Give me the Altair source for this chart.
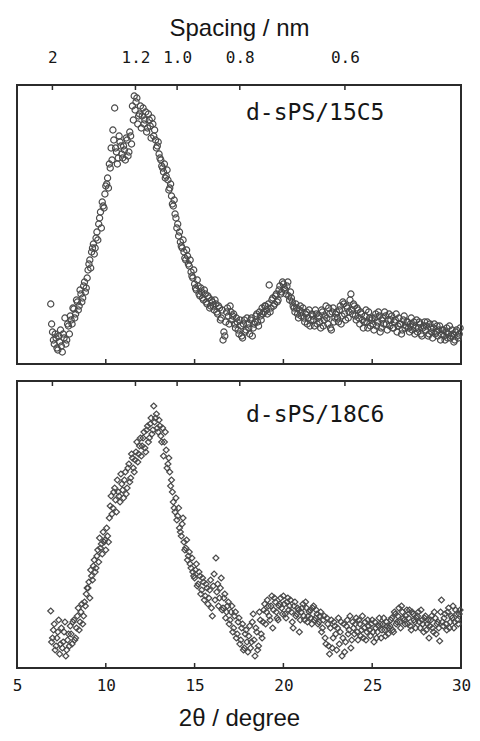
import math
import altair as alt
import pandas as pd

# ---- data (intensity in arbitrary units) ----
# two interleaved sets per pattern: set A at 6.9, 7.0, ... ; set B at 6.95, 7.05, ...
TWO_THETA_START_A = 6.9
TWO_THETA_START_B = 6.95
TWO_THETA_STEP = 0.1

INTENSITY_15C5_A = [
    60,
    32, 20, 26, 14, 22, 18, 30, 46, 24, 38,
    48, 40, 55, 50, 62, 58, 70, 66, 82, 76,
    94, 104, 112, 120, 116, 132, 140, 152, 162, 156,
    178, 186, 200, 216, 234, 256, 212, 206, 222, 210,
    218, 204, 224, 212, 228, 258, 268, 262, 240, 250,
    236, 256, 244, 232, 250, 238, 246, 228, 224, 218,
    210, 204, 196, 200, 188, 184, 176, 168, 158, 150,
    136, 128, 122, 116, 112, 104, 108, 98, 92, 86,
    80, 74, 78, 68, 72, 64, 70, 60, 66, 58,
    62, 54, 60, 50, 56, 46, 24, 28, 52, 48,
    58, 44, 50, 36, 42, 30, 38, 26, 44, 34,
    40, 30, 46, 36, 42, 50, 38, 48, 56, 52,
    58, 50, 79, 56, 66, 60, 70, 64, 78, 72,
    80, 74, 78, 68, 72, 62, 56, 60, 50, 54,
    48, 56, 42, 52, 46, 38, 50, 44, 54, 40,
    48, 36, 52, 44, 58, 40, 50, 34, 56, 46,
    52, 42, 58, 48, 60, 44, 56, 52, 70, 50,
    58, 44, 54, 40, 50, 36, 48, 42, 52, 38,
    46, 34, 50, 42, 48, 36, 46, 52, 40, 44,
    38, 48, 36, 44, 32, 46, 40, 34, 48, 38,
    42, 32, 46, 38, 30, 44, 36, 40, 28, 38,
    34, 42, 30, 36, 26, 40, 32, 28, 38, 30,
    34, 24, 36, 30, 26, 34, 22, 32, 28, 30,
]

INTENSITY_15C5_B = [
    40,
    24, 30, 16, 28, 34, 12, 26, 20, 40, 30,
    44, 56, 46, 64, 54, 74, 62, 78, 72, 86,
    100, 96, 116, 110, 126, 124, 146, 136, 158, 170,
    180, 176, 196, 204, 224, 216, 200, 228, 218, 206,
    214, 226, 208, 232, 220, 244, 254, 266, 248, 258,
    248, 240, 252, 236, 244, 226, 240, 234, 216, 222,
    206, 198, 192, 186, 194, 174, 180, 160, 164, 146,
    140, 132, 118, 124, 106, 114, 100, 104, 88, 94,
    76, 84, 70, 76, 66, 74, 62, 68, 56, 64,
    58, 64, 52, 58, 44, 54, 32, 42, 56, 40,
    52, 48, 40, 46, 34, 44, 28, 40, 32, 46,
    36, 44, 28, 40, 48, 42, 52, 44, 50, 58,
    54, 60, 52, 64, 58, 68, 62, 74, 70, 82,
    76, 70, 82, 64, 66, 58, 52, 56, 46, 58,
    52, 46, 50, 40, 54, 44, 48, 38, 50, 46,
    42, 54, 38, 48, 46, 56, 36, 52, 42, 50,
    46, 54, 40, 62, 50, 58, 46, 64, 54, 60,
    48, 56, 46, 52, 44, 42, 54, 36, 46, 44,
    40, 46, 38, 52, 32, 44, 40, 48, 34, 50,
    44, 36, 42, 50, 38, 40, 30, 44, 36, 42,
    36, 40, 34, 42, 36, 32, 42, 30, 36, 42,
    38, 28, 40, 32, 36, 30, 38, 34, 24, 34,
    28, 32, 26, 38, 28, 30, 24, 34, 26, 36,
]

INTENSITY_18C6_A = [
    57,
    30, 44, 22, 36, 14, 40, 26, 46, 18, 34,
    42, 24, 48, 30, 52, 38, 56, 44, 66, 74,
    80, 70, 92, 102, 96, 112, 106, 120, 114, 126,
    118, 132, 150, 172, 160, 180, 156, 176, 166, 184,
    170, 196, 180, 204, 190, 210, 196, 216, 206, 222,
    212, 230, 220, 238, 226, 244, 234, 262, 250, 240,
    248, 232, 240, 226, 218, 204, 196, 188, 166, 156,
    148, 160, 136, 144, 126, 120, 108, 116, 100, 96,
    90, 104, 84, 92, 78, 86, 72, 80, 70, 88,
    52, 94, 110, 84, 70, 90, 60, 74, 56, 66,
    48, 62, 40, 56, 34, 50, 28, 44, 20, 38,
    16, 42, 26, 54, 12, 36, 22, 48, 30, 58,
    44, 68, 52, 62, 40, 70, 56, 48, 64, 60,
    72, 54, 66, 58, 68, 46, 62, 52, 60, 36,
    56, 64, 48, 60, 52, 58, 44, 62, 50, 54,
    46, 56, 40, 52, 24, 44, 14, 48, 30, 42,
    18, 50, 36, 12, 44, 26, 48, 38, 20, 46,
    34, 50, 28, 44, 38, 30, 46, 36, 42, 32,
    48, 26, 40, 36, 50, 30, 44, 38, 46, 34,
    42, 50, 36, 54, 46, 60, 40, 56, 48, 52,
    44, 58, 38, 54, 46, 50, 56, 40, 48, 36,
    52, 44, 30, 48, 40, 56, 34, 46, 27, 68,
    42, 54, 38, 60, 46, 50, 40, 58, 48, 54,
]

INTENSITY_18C6_B = [
    26,
    38, 18, 30, 48, 24, 20, 36, 12, 28, 22,
    34, 46, 28, 40, 60, 46, 64, 52, 62, 80,
    86, 98, 88, 108, 100, 118, 130, 124, 136, 128,
    140, 126, 162, 154, 176, 168, 188, 172, 194, 178,
    188, 174, 200, 186, 214, 200, 208, 226, 214, 230,
    222, 236, 216, 242, 230, 250, 238, 246, 254, 236,
    242, 226, 212, 236, 200, 210, 182, 176, 160, 170,
    152, 140, 132, 150, 118, 128, 112, 104, 110, 92,
    98, 82, 96, 74, 90, 68, 84, 64, 78, 60,
    82, 68, 76, 62, 80, 58, 70, 50, 62, 44,
    56, 36, 52, 30, 46, 24, 40, 18, 34, 26,
    32, 20, 46, 28, 40, 18, 56, 34, 46, 64,
    56, 62, 48, 72, 58, 66, 50, 62, 70, 54,
    64, 50, 70, 62, 56, 40, 66, 54, 58, 48,
    60, 52, 66, 46, 56, 50, 60, 48, 58, 44,
    52, 36, 48, 30, 50, 22, 40, 20, 46, 34,
    40, 24, 46, 30, 16, 42, 34, 52, 28, 40,
    44, 36, 48, 32, 52, 40, 28, 48, 38, 44,
    36, 46, 30, 42, 44, 38, 50, 32, 42, 40,
    48, 38, 56, 44, 52, 46, 62, 50, 44, 58,
    50, 42, 56, 48, 40, 52, 46, 58, 44, 50,
    38, 48, 42, 52, 36, 50, 44, 40, 56, 46,
    50, 44, 56, 40, 52, 62, 46, 54, 44, 58,
]

PANEL_LABELS = ["d-sPS/15C5", "d-sPS/18C6"]
DEGREE_TICKS = [5, 10, 15, 20, 25, 30]
SPACING_NM = [2, 1.2, 1.0, 0.8, 0.6]
SPACING_LABELS = ["2", "1.2", "1.0", "0.8", "0.6"]
WAVELENGTH_NM = 0.244
X_TITLE = "2\u03b8 / degree"
TOP_TITLE = "Spacing / nm"

# ---- layout constants ----
W = 444
H_TOP = 279
H_BOT = 287
Y_MAX_TOP = 279
Y_MAX_BOT = 287
MARK_COLOR = "#4a4a4a"
FRAME_COLOR = "#2b2b2b"
TEXT_COLOR = "#161616"
MONO = "DejaVu Sans Mono"
SANS = "Liberation Sans"


def make_df(a, b):
    deg = [round(TWO_THETA_START_A + i * TWO_THETA_STEP, 2) for i in range(len(a))]
    deg += [round(TWO_THETA_START_B + i * TWO_THETA_STEP, 2) for i in range(len(b))]
    return pd.DataFrame({"deg": deg, "h": list(a) + list(b)})


df_top = make_df(INTENSITY_15C5_A, INTENSITY_15C5_B)
df_bot = make_df(INTENSITY_18C6_A, INTENSITY_18C6_B)

# positions of the d-spacing ticks on the 2-theta scale (Bragg's law)
spacing_pos = [round(2 * math.degrees(math.asin(WAVELENGTH_NM / (2 * d))), 3) for d in SPACING_NM]
df_spacing = pd.DataFrame({"pos": spacing_pos, "label": SPACING_LABELS})
df_deg = pd.DataFrame({"tick": DEGREE_TICKS})

label_expr = "[{}][indexof([{}], datum.value)]".format(
    ",".join("'%s'" % s for s in SPACING_LABELS), ",".join(repr(p) for p in spacing_pos)
)

xscale = alt.Scale(domain=[5, 30], nice=False, zero=False)


def points(df, shape, size, ymax, x_axis):
    return alt.Chart(df).mark_point(
        shape=shape, filled=False, size=size, color=MARK_COLOR, strokeWidth=1.2, opacity=1
    ).encode(
        x=alt.X("deg:Q", scale=xscale, axis=x_axis),
        y=alt.Y("h:Q", scale=alt.Scale(domain=[0, ymax], nice=False, zero=False), axis=None),
    )


def top_ticks(axis):
    return alt.Chart(df_spacing).mark_rule(color=FRAME_COLOR, strokeWidth=1.5).encode(
        x=alt.X("pos:Q", scale=xscale, axis=axis),
        y=alt.value(0),
        y2=alt.value(5),
    )


def bottom_ticks(h):
    return alt.Chart(df_deg).mark_rule(color=FRAME_COLOR, strokeWidth=1.5).encode(
        x=alt.X("tick:Q", scale=xscale, axis=None),
        y=alt.value(h),
        y2=alt.value(h - 5),
    )


def panel_label(text, y):
    return alt.Chart(pd.DataFrame({"label": [text]})).mark_text(
        align="left", baseline="alphabetic", font=MONO, fontSize=23, color=TEXT_COLOR
    ).encode(x=alt.value(229), y=alt.value(y), text="label:N")


top_axis = alt.Axis(
    orient="top",
    values=spacing_pos,
    labelExpr=label_expr,
    ticks=False,
    domain=False,
    grid=False,
    labelFont=MONO,
    labelFontSize=16,
    labelColor=TEXT_COLOR,
    labelPadding=20,
    labelOverlap=False,
    labelFlush=False,
    title=TOP_TITLE,
    titleFont=SANS,
    titleFontSize=24,
    titleFontWeight="normal",
    titleColor=TEXT_COLOR,
    titleY=-50,
    titleBaseline="alphabetic",
)

bottom_axis = alt.Axis(
    orient="bottom",
    values=DEGREE_TICKS,
    format="d",
    ticks=False,
    domain=False,
    grid=False,
    labelFont=MONO,
    labelFontSize=16,
    labelColor=TEXT_COLOR,
    labelPadding=9,
    labelOverlap=False,
    labelFlush=False,
    title=X_TITLE,
    titleFont=SANS,
    titleFontSize=24,
    titleFontWeight="normal",
    titleColor=TEXT_COLOR,
    titleY=57,
    titleBaseline="alphabetic",
)

top_panel = alt.layer(
    points(df_top, "circle", 38, Y_MAX_TOP, None),
    top_ticks(top_axis),
    bottom_ticks(H_TOP),
    panel_label(PANEL_LABELS[0], 35),
).properties(width=W, height=H_TOP).resolve_axis(x="independent")

bottom_panel = alt.layer(
    points(df_bot, "diamond", 36, Y_MAX_BOT, bottom_axis),
    top_ticks(None),
    bottom_ticks(H_BOT),
    panel_label(PANEL_LABELS[1], 41),
).properties(width=W, height=H_BOT).resolve_axis(x="independent")

chart = alt.vconcat(top_panel, bottom_panel, spacing=17, bounds="flush").properties(
    padding={"left": 3, "top": 7, "right": 0, "bottom": 0},
    background="white",
).configure_view(stroke=FRAME_COLOR, strokeWidth=2)

chart.save("out.html", embed_options={"renderer": "svg", "actions": False})
